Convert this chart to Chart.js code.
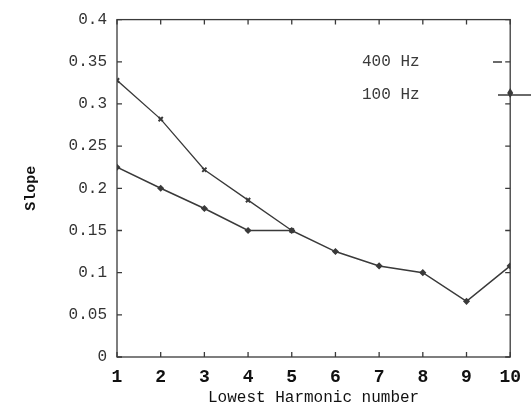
<!DOCTYPE html>
<html>
<head>
<meta charset="utf-8">
<script src="https://cdn.jsdelivr.net/npm/chart.js@4.4.0/dist/chart.umd.min.js"></script>
<style>
  html, body { margin: 0; padding: 0; background: #fff; }
  #wrap { width: 531px; height: 410px; }
</style>
</head>
<body>
<div id="wrap"><canvas id="chart" width="531" height="410"></canvas></div>
<script>
// datos
const armonicos = [1, 2, 3, 4, 5, 6, 7, 8, 9, 10];
const pendiente400 = [0.328, 0.282, 0.222, 0.186, 0.150];
const pendiente100 = [0.225, 0.200, 0.176, 0.150, 0.150, 0.125, 0.108, 0.100, 0.066, 0.108];
const ticksY = [0, 0.05, 0.1, 0.15, 0.2, 0.25, 0.3, 0.35, 0.4];
const leyenda = ["400 Hz", "100 Hz"];

const tinta = "#3a3a3a";
const mono = "'Liberation Mono', 'DejaVu Sans Mono', monospace";

// ticks hacia adentro en los cuatro lados + leyenda a mano
const marcoPlugin = {
  id: "marco",
  afterDraw(chart) {
    const { ctx, chartArea: a, scales: { x, y } } = chart;
    ctx.save();
    ctx.strokeStyle = tinta;
    ctx.lineWidth = 1.3;
    ctx.strokeRect(a.left, a.top, a.right - a.left, a.bottom - a.top);
    ctx.beginPath();
    armonicos.forEach(v => {
      const px = x.getPixelForValue(v);
      ctx.moveTo(px, a.bottom); ctx.lineTo(px, a.bottom - 5);
      ctx.moveTo(px, a.top); ctx.lineTo(px, a.top + 5);
    });
    ticksY.forEach(v => {
      const py = y.getPixelForValue(v);
      ctx.moveTo(a.left, py); ctx.lineTo(a.left + 5, py);
      ctx.moveTo(a.right, py); ctx.lineTo(a.right - 5, py);
    });
    ctx.stroke();

    // leyenda
    ctx.fillStyle = tinta;
    ctx.font = "16px " + mono;
    ctx.textBaseline = "middle";
    ctx.fillText(leyenda[0], 362, 62);
    ctx.fillText(leyenda[1], 362, 95);
    ctx.beginPath();
    ctx.moveTo(493, 62); ctx.lineTo(502, 62);
    ctx.moveTo(498, 95); ctx.lineTo(531, 95);
    ctx.stroke();
    ctx.beginPath();
    ctx.moveTo(a.right, 88); ctx.lineTo(a.right + 3, 93);
    ctx.lineTo(a.right, 98); ctx.lineTo(a.right - 3, 93); ctx.closePath();
    ctx.fill();
    ctx.restore();
  }
};

new Chart(document.getElementById("chart"), {
  type: "line",
  data: {
    datasets: [
      {
        label: leyenda[0],
        data: pendiente400.map((v, i) => ({ x: armonicos[i], y: v })),
        borderColor: tinta,
        backgroundColor: tinta,
        borderWidth: 1.3,
        pointStyle: "crossRot",
        pointRadius: 3,
        pointBorderWidth: 2,
        tension: 0,
      },
      {
        label: leyenda[1],
        data: pendiente100.map((v, i) => ({ x: armonicos[i], y: v })),
        borderColor: tinta,
        backgroundColor: tinta,
        borderWidth: 1.5,
        pointStyle: "rectRot",
        pointRadius: 2.5,
        tension: 0,
      },
    ],
  },
  options: {
    responsive: false,
    animation: false,
    layout: { padding: { top: 18, right: 13, left: 0, bottom: 0 } },
    plugins: { legend: { display: false }, tooltip: { enabled: false } },
    scales: {
      x: {
        type: "linear",
        min: 1,
        max: 10,
        afterFit: s => { s.height = 53; },
        afterBuildTicks: s => { s.ticks = armonicos.map(v => ({ value: v })); },
        grid: { display: false, drawTicks: false },
        border: { display: false },
        ticks: {
          padding: 10,
          color: "#111",
          font: { family: mono, size: 18, weight: "bold" },
          maxRotation: 0,
          autoSkip: false,
        },
        title: {
          display: true,
          text: "Lowest Harmonic number",
          color: "#111",
          font: { family: mono, size: 16 },
          padding: { top: 0, bottom: 3 },
        },
      },
      y: {
        min: 0,
        max: 0.4,
        afterFit: s => { s.width = 117; },
        afterBuildTicks: s => { s.ticks = ticksY.map(v => ({ value: v })); },
        grid: { display: false, drawTicks: false },
        border: { display: false },
        ticks: {
          padding: 10,
          color: "#333",
          font: { family: mono, size: 16 },
          callback: v => String(Math.round(v * 100) / 100),
        },
        title: {
          display: true,
          text: "Slope",
          color: "#111",
          font: { family: mono, size: 15, weight: "bold" },
          padding: { top: 22, bottom: 0 },
        },
      },
    },
  },
  plugins: [marcoPlugin],
});
</script>
</body>
</html>
